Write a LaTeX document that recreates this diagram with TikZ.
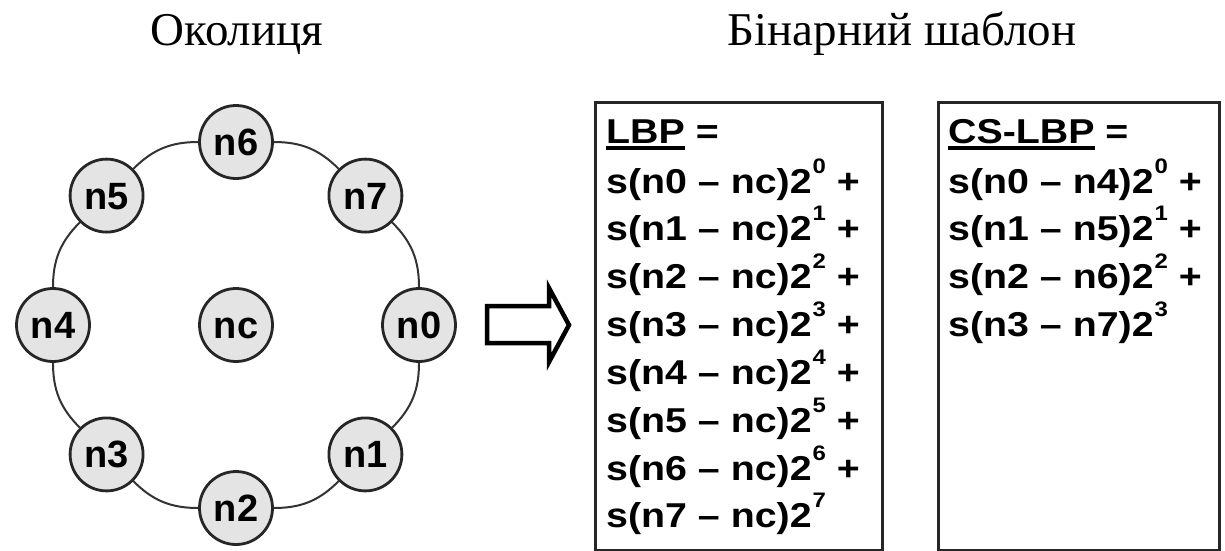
\documentclass[tikz,border=0pt]{standalone}
\usepackage{fontspec}
\setmainfont{Liberation Serif}
\setsansfont{Liberation Sans}
\newfontfamily\widesans{Liberation Sans}[FakeStretch=1.14]
\usetikzlibrary{calc}

\definecolor{inkdark}{HTML}{262626}
\definecolor{discfill}{HTML}{E4E4E4}
\definecolor{ringline}{HTML}{333333}

% power of two with a raised exponent
\newcommand{\pwr}[1]{2\kern1pt\raisebox{20pt}{\fontsize{21}{21}\selectfont #1}}
% thick underline under a heading word
\newcommand{\heavyul}[1]{\setbox0\hbox{#1}\rlap{\rule[-7pt]{\wd0}{3.6pt}}\box0\relax}

\tikzset{
  pixel/.style={x=1pt,y=-1pt},
  disc/.style={circle, draw=inkdark, line width=2.8pt, fill=discfill,
    minimum size=73pt, inner sep=0pt, text height=27pt, text depth=0pt,
    font=\fontsize{38}{38}\selectfont\sffamily\bfseries},
  ring/.style={draw=ringline, line width=2pt},
  title/.style={inner sep=0pt, anchor=base, font=\fontsize{47}{47}\selectfont\rmfamily},
  panel/.style={draw=inkdark, line width=2.6pt, inner sep=0pt, anchor=north west},
  formula/.style={inner sep=0pt, anchor=base west,
    font=\fontsize{34.5}{34.5}\selectfont\widesans\bfseries},
  blockarrow/.style={draw=black, line width=4.5pt, line join=miter, fill=white}
}

\begin{document}
\begin{tikzpicture}[pixel]
  \useasboundingbox (0,0) rectangle (1225,550);

  % headings
  \node[title] (tleft) at (237,45) {Околиця};
  \node[title] (tright) at (902,45) {Бінарний шаблон};

  % neighbourhood: centre pixel and eight neighbours on a ring
  \node[disc] (nc) at (236,325) {nc};
  \foreach \k in {0,...,7} {
    \node[disc] (n\k) at ($(236,325)+({-45*\k}:183pt)$) {n\k};
  }
  \foreach \a/\b in {0/7,7/6,6/5,5/4,4/3,3/2,2/1,1/0} {
    \draw[ring] (n\a) to[bend right=22.5] (n\b);
  }

  % block arrow between the neighbourhood and the formulas
  \draw[blockarrow] (487,306) -- (549,306) -- (549,288) -- (569,325)
    -- (549,362) -- (549,343) -- (487,343) -- cycle;

  % LBP panel
  \node[panel, minimum width=287pt, minimum height=448pt] (lbpbox) at (594,101) {};
  \node[formula] (lbp0) at (606,143) {\heavyul{LBP} =};
  \foreach \k/\y in {0/193,1/240,2/288,3/336,4/384,5/432,6/480} {
    \node[formula] (lbp\the\numexpr\k+1\relax) at (606,\y) {s(n\k\ – nc)\pwr{\k} +};
  }
  \node[formula] (lbp8) at (606,527) {s(n7 – nc)\pwr{7}};

  % CS-LBP panel
  \node[panel, minimum width=281pt, minimum height=448pt] (csbox) at (937,101) {};
  \node[formula] (cs0) at (948,143) {\heavyul{CS-LBP} =};
  \node[formula] (cs1) at (948,193) {s(n0 – n4)\pwr{0} +};
  \node[formula] (cs2) at (948,240) {s(n1 – n5)\pwr{1} +};
  \node[formula] (cs3) at (948,288) {s(n2 – n6)\pwr{2} +};
  \node[formula] (cs4) at (948,336) {s(n3 – n7)\pwr{3}};
\end{tikzpicture}
\end{document}
